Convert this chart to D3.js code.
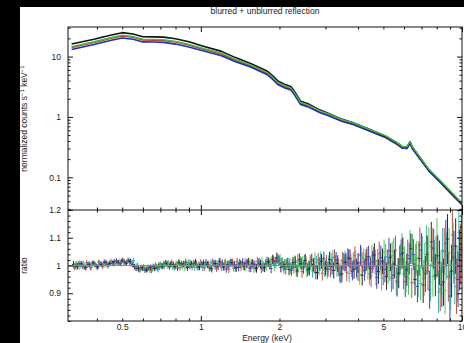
<!DOCTYPE html>
<html>
<head>
<meta charset="utf-8">
<script src="https://cdn.jsdelivr.net/npm/d3@7"></script>
<style>
  body { margin: 0; background: #000; }
  svg { display: block; }
  text { font-family: "Liberation Sans", Arial, sans-serif; fill: #222; }
</style>
</head>
<body>
<svg id="chart" width="464" height="343"></svg>
<script>
// spectrum (normalized counts s^-1 keV^-1)
const specEnergy = [0.32, 0.39, 0.45, 0.50, 0.55, 0.60, 0.66, 0.72, 0.80, 0.90, 1.00, 1.20, 1.35, 1.55, 1.80, 1.89, 1.97, 2.10, 2.21, 2.27, 2.35, 2.41, 2.56, 2.85, 3.12, 3.46, 3.83, 4.40, 5.10, 5.60, 5.90, 6.15, 6.33, 6.45, 6.60, 7.45, 8.30, 9.10, 10.0]
const specBlack = [16.1, 19.4, 22.6, 24.9, 23.7, 21.3, 21.2, 21.0, 19.7, 17.6, 15.3, 12.2, 9.7, 7.7, 5.7, 4.75, 3.95, 3.46, 3.19, 2.76, 2.17, 1.82, 1.67, 1.31, 1.12, 0.92, 0.80, 0.63, 0.48, 0.38, 0.324, 0.318, 0.39, 0.318, 0.277, 0.136, 0.085, 0.056, 0.037]
const specRed = [14.2, 17.1, 19.9, 21.9, 20.9, 18.8, 18.7, 18.5, 17.4, 15.5, 13.6, 11.0, 8.7, 7.0, 5.2, 4.3, 3.6, 3.15, 2.9, 2.52, 1.99, 1.67, 1.53, 1.21, 1.05, 0.86, 0.76, 0.59, 0.455, 0.36, 0.305, 0.30, 0.37, 0.30, 0.262, 0.129, 0.080, 0.053, 0.035]
const specGreen = [14.6, 17.6, 20.5, 22.6, 21.5, 19.4, 19.3, 19.1, 17.9, 16.0, 14.1, 11.4, 9.1, 7.3, 5.4, 4.5, 3.74, 3.28, 3.03, 2.63, 2.07, 1.74, 1.6, 1.27, 1.1, 0.91, 0.80, 0.63, 0.485, 0.38, 0.325, 0.32, 0.39, 0.32, 0.278, 0.137, 0.086, 0.057, 0.037]
const specBlue = [13.1, 15.8, 18.5, 20.3, 19.4, 17.5, 17.4, 17.2, 16.1, 14.4, 12.7, 10.3, 8.3, 6.7, 4.98, 4.14, 3.44, 3.02, 2.79, 2.42, 1.91, 1.60, 1.48, 1.18, 1.03, 0.85, 0.75, 0.59, 0.455, 0.36, 0.305, 0.30, 0.37, 0.30, 0.262, 0.129, 0.081, 0.053, 0.035]

// ratio panel: bin energies, shared error (thousandths), deviations from 1 (thousandths)
const ratioEnergy = [0.33, 0.342, 0.355, 0.368, 0.381, 0.395, 0.409, 0.424, 0.440, 0.456,
  0.472, 0.490, 0.507, 0.526, 0.545, 0.565, 0.586, 0.607, 0.629, 0.652,
  0.676, 0.701, 0.726, 0.753, 0.780, 0.809, 0.838, 0.869, 0.901, 0.933,
  0.968, 1.003, 1.039, 1.077, 1.117, 1.157, 1.200, 1.243, 1.289, 1.336,
  1.385, 1.435, 1.488, 1.542, 1.598, 1.657, 1.717, 1.780, 1.845, 1.912,
  1.982, 2.054, 2.129, 2.207, 2.287, 2.371, 2.457, 2.547, 2.640, 2.736,
  2.836, 2.939, 3.047, 3.158, 3.273, 3.392, 3.516, 3.645, 3.778, 3.916,
  4.058, 4.207, 4.360, 4.519, 4.684, 4.855, 5.032, 5.216, 5.406, 5.603,
  5.808, 6.020, 6.239, 6.467, 6.703, 6.947, 7.201, 7.463, 7.736, 8.018,
  8.310, 8.613, 8.928, 9.253, 9.591, 9.941]
const ratioErr = [12, 11, 10, 10, 9, 9, 9, 9, 9, 9, 9,
  9, 9, 9, 10, 10, 10, 10, 10, 10, 10, 10, 10, 10, 11, 11, 11, 11, 12, 12, 12,
  12, 12, 12, 13, 13, 13, 13, 14, 14, 14, 14, 15, 15, 15, 16, 16, 16, 17, 17, 18,
  18, 19, 20, 21, 22, 22, 23, 24, 24, 25, 26, 27, 28, 29, 30, 31, 32, 33, 34, 36,
  37, 39, 40, 42, 44, 46, 48, 50, 52, 54, 56, 58, 55, 58, 62, 65, 68, 72, 76, 80, 85, 90, 95, 100, 110]
const ratioBlack = [4, -3, 6, -8, 2, 9, -5, 3, 11, 7, 14,
  12, 18, 9, 15, -4, -12, -9, -15, -6, -11,
  2, -4, 8, 5, -3, 10, 6, -7, 4, 12,
  -5, 9, 3, -12, 7, 15, -6, 4, 11, -9,
  6, -3, 13, 8, -10, 5, -8, 12, 22, 28,
  -7, 4, -15, 10, -20, 6, 18, -12, 3, -25,
  15, -9, 22, -18, 7, -30, 12, 25, -14, 9,
  -35, 20, -10, 38, -22, 15, -40, 30, 5, -28,
  45, -15, 60, -50, 25, -70, 40, 85, -35, 10,
  -60, 95, -20, 70, 20]
const ratioRed = [-6, 5, -2, 10, -9, 3, 12, -4, 6, 15, 9,
  8, 20, 14, 6, -9, -16, -5, -12, -18, 2,
  -6, 7, -2, 11, 4, -8, 3, 9, -5, 6,
  10, -7, 5, 12, -10, 2, 8, -14, 6, 13,
  -5, 11, -9, 4, 15, -12, 7, 3, 18, 25,
  10, -14, 6, -8, 19, -22, 9, 14, -5, 20,
  -28, 11, -15, 30, -6, 18, -24, 8, 35, -20,
  12, 28, -38, 15, 42, -25, 10, -45, 55, 18,
  -30, 35, -62, 20, 75, -45, -20, 65, 30, -85,
  50, -40, 110, -75, 40]
const ratioGreen = [2, -5, 8, 1, -7, 4, 10, 6, -3, 12, 8,
  16, 10, 21, 11, -2, -14, -10, -6, -13, -4,
  5, -2, 9, -6, 7, 2, -9, 11, 3, -4,
  7, 2, -11, 9, 4, -7, 12, 5, -10, 8,
  3, -6, 10, -12, 7, 14, -4, 9, -2, 20,
  12, 5, -10, 16, -4, 12, -19, 7, 24, -11,
  6, -22, 18, 9, -26, 14, 31, -8, 20, -33,
  25, -12, 34, -30, 8, 48, -18, 36, -55, 22,
  12, -48, 58, 30, -65, 15, 70, -40, 95, -25,
  -90, 45, 60, -30, 85]
const ratioBlue = [-3, 7, -6, 4, 9, -2, 5, 13, 2, 8, 17,
  6, 13, 17, 3, -11, -7, -17, -10, -3, -9,
  -1, 10, -5, 3, -9, 6, 13, -2, 8, -6,
  3, 11, -8, 6, -4, 9, -13, 10, 2, -7,
  12, 7, -9, 3, 10, -6, 15, -11, 14, 17,
  -3, 9, -17, 12, 22, -8, -15, 19, -26, 6,
  24, -13, -5, 20, -34, 10, 27, -21, -9, 38,
  -18, 32, 12, -42, 28, -15, 52, -35, -60, 40,
  -58, 25, 40, -75, 55, -30, -88, 60, 35, -70,
  80, -110, 30, -50, 65]
const ratioCyan = [5, 0, -4, 6, 3, -8, 7, 1, 10, 4, 9,
  14, 7, 12, 18, 1, -10, -13, -18, -8, -15,
  -3, 4, 6, -8, 11, -4, 5, 8, -7, 2,
  -9, 6, 10, -3, 13, -5, 4, 9, -8, 11,
  -2, 8, 5, -7, 12, -3, 10, 16, 6, 24,
  -12, 8, 3, -16, 11, 17, -6, -20, 12, 25,
  -16, 10, 28, -12, -7, 22, -29, 15, -20, 30,
  6, -30, 26, 18, -45, 32, -8, 50, -25, 62,
  -40, 70, -15, -55, 45, 80, -60, 20, -95, 55,
  35, -70, -45, 120, -35]

const xTickLabels = [0.5, 1, 2, 5, 10]
const countTickLabels = [0.1, 1, 10]
const ratioTickLabels = [0.9, 1, 1.1, 1.2]

const colors = { black: '#111', red: '#b8403a', green: '#3cc43c', blue: '#2a2ab8', cyan: '#2aa6a6' }

const L = 68, R = 462, T = 27, MID = 210, B = 321

const svg = d3.select('#chart')
svg.append('rect').attr('x', 20).attr('y', 7).attr('width', 444).attr('height', 336).attr('fill', '#fff')

const x = d3.scaleLog().domain([0.31, 10]).range([L, R])
const yTop = d3.scaleLog().domain([0.0287, 30.9]).range([MID, T])
const yRat = d3.scaleLinear().domain([0.8, 1.2]).range([B, MID])

const defs = svg.append('defs')
defs.append('clipPath').attr('id', 'clipTop').append('rect')
  .attr('x', L).attr('y', T).attr('width', R - L).attr('height', MID - T)
defs.append('clipPath').attr('id', 'clipBot').append('rect')
  .attr('x', L).attr('y', MID).attr('width', R - L).attr('height', B - MID)

// ---- upper panel spectra
const specSeries = [
  { name: 'red', v: specRed },
  { name: 'blue', v: specBlue },
  { name: 'black', v: specBlack },
  { name: 'green', v: specGreen }
]
const line = d3.line().x(d => x(d[0])).y(d => yTop(d[1]))
svg.append('g').attr('clip-path', 'url(#clipTop)')
  .selectAll('path')
  .data(specSeries)
  .join('path')
  .attr('d', s => line(specEnergy.map((e, i) => [e, s.v[i]])))
  .attr('fill', 'none')
  .attr('stroke', s => colors[s.name])
  .attr('stroke-width', s => s.name === 'green' ? 1.3 : 1.6)
  .attr('stroke-linejoin', 'round')

// ---- lower panel ratio crosses
const ratioSeries = [
  { name: 'black', v: ratioBlack },
  { name: 'red', v: ratioRed },
  { name: 'green', v: ratioGreen },
  { name: 'blue', v: ratioBlue },
  { name: 'cyan', v: ratioCyan }
]
const pts = []
ratioEnergy.forEach((e, i) => {
  ratioSeries.forEach((s, k) => {
    pts.push({ e, k, c: colors[s.name], r: 1 + s.v[i] / 1000, err: ratioErr[i] / 1000 })
  })
})
const gRat = svg.append('g').attr('clip-path', 'url(#clipBot)')
const cross = gRat.selectAll('g').data(pts).join('g')
  .attr('stroke', d => d.c).attr('stroke-width', 1).attr('opacity', 0.9)
cross.append('line')
  .attr('x1', d => x(d.e) + (d.k - 2) * 0.8).attr('x2', d => x(d.e) + (d.k - 2) * 0.8)
  .attr('y1', d => yRat(d.r - d.err)).attr('y2', d => yRat(d.r + d.err))
cross.append('line')
  .attr('x1', d => x(d.e) + (d.k - 2) * 0.8 - 1.5).attr('x2', d => x(d.e) + (d.k - 2) * 0.8 + 1.5)
  .attr('y1', d => yRat(d.r)).attr('y2', d => yRat(d.r))

gRat.append('path')
  .attr('d', d3.line().x(d => x(d)).y(() => yRat(1))(x.domain()))
  .attr('stroke', colors.green).attr('stroke-width', 1).attr('fill', 'none')

// ---- frames and ticks
const isMajor = v => Math.abs(Math.log10(v) - Math.round(Math.log10(v))) < 1e-6

function tickSet(g, axis, values, size) {
  g.call(axis.tickValues(values).tickSize(-size).tickFormat(''))
    .call(s => s.select('.domain').remove())
    .selectAll('line').attr('stroke', '#111')
}
function logTicks(g, make, scale) {
  const all = scale.ticks()
  tickSet(g.append('g'), make(scale), all.filter(v => !isMajor(v)), 2.5)
  tickSet(g.append('g'), make(scale), all.filter(isMajor), 5)
}

const axes = svg.append('g')
logTicks(axes.append('g').attr('transform', `translate(0,${T})`), d3.axisTop, x)
logTicks(axes.append('g').attr('transform', `translate(0,${MID})`), d3.axisBottom, x)
logTicks(axes.append('g').attr('transform', `translate(0,${MID})`), d3.axisTop, x)
logTicks(axes.append('g').attr('transform', `translate(0,${B})`), d3.axisBottom, x)
logTicks(axes.append('g').attr('transform', `translate(${L},0)`), d3.axisLeft, yTop)
logTicks(axes.append('g').attr('transform', `translate(${R},0)`), d3.axisRight, yTop)

const ratMinor = yRat.ticks(20).filter(v => !ratioTickLabels.some(t => Math.abs(t - v) < 1e-6))
tickSet(axes.append('g').attr('transform', `translate(${L},0)`), d3.axisLeft(yRat), ratMinor, 2.5)
tickSet(axes.append('g').attr('transform', `translate(${L},0)`), d3.axisLeft(yRat), ratioTickLabels, 5)
tickSet(axes.append('g').attr('transform', `translate(${R},0)`), d3.axisRight(yRat), ratMinor, 2.5)
tickSet(axes.append('g').attr('transform', `translate(${R},0)`), d3.axisRight(yRat), ratioTickLabels, 5)

svg.append('rect').attr('x', L).attr('y', T).attr('width', R - L).attr('height', B - T)
  .attr('fill', 'none').attr('stroke', '#111').attr('stroke-width', 1)
svg.append('line').attr('x1', L).attr('x2', R).attr('y1', MID).attr('y2', MID)
  .attr('stroke', '#111').attr('stroke-width', 1)

// ---- labels
function labelAxis(g, axis, values, pad) {
  g.call(axis.tickValues(values).tickSize(0).tickPadding(pad).tickFormat(d => String(d)))
    .call(s => s.select('.domain').remove())
    .selectAll('text').attr('font-size', 8.5).attr('fill', '#222')
}
labelAxis(svg.append('g').attr('transform', `translate(${L},0)`), d3.axisLeft(yTop), countTickLabels, 7)
labelAxis(svg.append('g').attr('transform', `translate(${L},0)`), d3.axisLeft(yRat), ratioTickLabels, 7)
labelAxis(svg.append('g').attr('transform', `translate(0,${B})`), d3.axisBottom(x), xTickLabels, 3)
svg.selectAll('.tick text').attr('font-family', '"Liberation Sans", Arial, sans-serif')

svg.append('text').attr('x', (L + R) / 2).attr('y', 13.5).attr('text-anchor', 'middle')
  .attr('font-size', 8.5).text('blurred + unblurred reflection')

svg.append('text').attr('x', (L + R) / 2 + 2).attr('y', 341).attr('text-anchor', 'middle')
  .attr('font-size', 8.5).text('Energy (keV)')

svg.append('text').attr('transform', `translate(27,${(MID + B) / 2}) rotate(-90)`)
  .attr('text-anchor', 'middle').attr('font-size', 8.5).text('ratio')

const yl = svg.append('text').attr('transform', `translate(27,${(T + MID) / 2}) rotate(-90)`)
  .attr('text-anchor', 'middle').attr('font-size', 8.5)
yl.append('tspan').text('normalized counts s')
yl.append('tspan').attr('dy', -3).attr('font-size', 6).text('−1')
yl.append('tspan').attr('dy', 3).text(' keV')
yl.append('tspan').attr('dy', -3).attr('font-size', 6).text('−1')
</script>
</body>
</html>
